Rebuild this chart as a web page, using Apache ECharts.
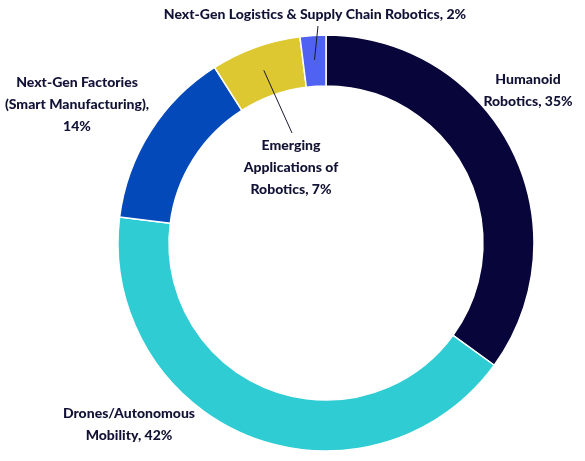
<!DOCTYPE html>
<html>
<head>
<meta charset="utf-8">
<script src="https://cdn.jsdelivr.net/npm/echarts@6/dist/echarts.min.js"></script>
<style>
  html, body { margin: 0; padding: 0; background: #fff; }
  #chart { width: 585px; height: 461px; }
</style>
</head>
<body>
<div id="chart"></div>
<script>
/// data

const categories = [
  'Humanoid Robotics',
  'Drones/Autonomous Mobility',
  'Next-Gen Factories (Smart Manufacturing)',
  'Emerging Applications of Robotics',
  'Next-Gen Logistics & Supply Chain Robotics'
]
const shares = [35, 42, 14, 7, 2]
const labels = [
  'Humanoid\nRobotics, 35%',
  'Drones/Autonomous\nMobility, 42%',
  'Next-Gen Factories\n(Smart Manufacturing),\n14%',
  'Emerging\nApplications of\nRobotics, 7%',
  'Next-Gen Logistics & Supply Chain Robotics, 2%'
]
const colors = ['#07053a', '#2fccd3', '#0349b9', '#ddc832', '#4f62f2']


/// layout

const CX = 326, CY = 243
const R_IN = 157, R_OUT = 208

// where each label sits (centre of the text block)
const labelSpots = [[528, 90], [129, 424], [77, 104], [291, 167], [315, 14]]
// leader lines: which slice, and where the line meets its label
const leaders = [
  { index: 3, end: [292, 133] },
  { index: 4, end: [318, 26] }
]

const total = shares.reduce((a, b) => a + b, 0)

function midPoint(i, r) {
  const before = shares.slice(0, i).reduce((a, b) => a + b, 0)
  const a = 2 * Math.PI * (before + shares[i] / 2) / total
  return [CX + r * Math.sin(a), CY - r * Math.cos(a)]
}


/// chart

const chart = echarts.init(document.getElementById('chart'), null, { renderer: 'canvas' })

chart.setOption({
  animation: false,
  graphic: leaders.map(l => {
    const s = midPoint(l.index, (R_IN + R_OUT) / 2 + 1)
    return {
      type: 'line',
      z: 10,
      shape: { x1: s[0], y1: s[1], x2: l.end[0], y2: l.end[1] },
      style: { stroke: '#1a1a2e', lineWidth: 1 }
    }
  }),
  series: [{
    type: 'pie',
    center: [CX, CY],
    radius: [R_IN, R_OUT],
    startAngle: 90,
    clockwise: true,
    avoidLabelOverlap: false,
    itemStyle: { borderColor: '#fff', borderWidth: 1.5 },
    emphasis: { disabled: true },
    label: {
      show: true,
      position: 'outside',
      formatter: p => labels[p.dataIndex],
      color: '#121236',
      fontFamily: 'Lato',
      fontWeight: 900,
      fontSize: 14,
      lineHeight: 22,
      align: 'center'
    },
    labelLine: { show: false },
    labelLayout: p => ({
      x: labelSpots[p.dataIndex][0],
      y: labelSpots[p.dataIndex][1],
      align: 'center',
      verticalAlign: 'middle'
    }),
    data: categories.map((name, i) => ({
      name,
      value: shares[i],
      itemStyle: { color: colors[i] }
    }))
  }]
})
</script>
</body>
</html>
